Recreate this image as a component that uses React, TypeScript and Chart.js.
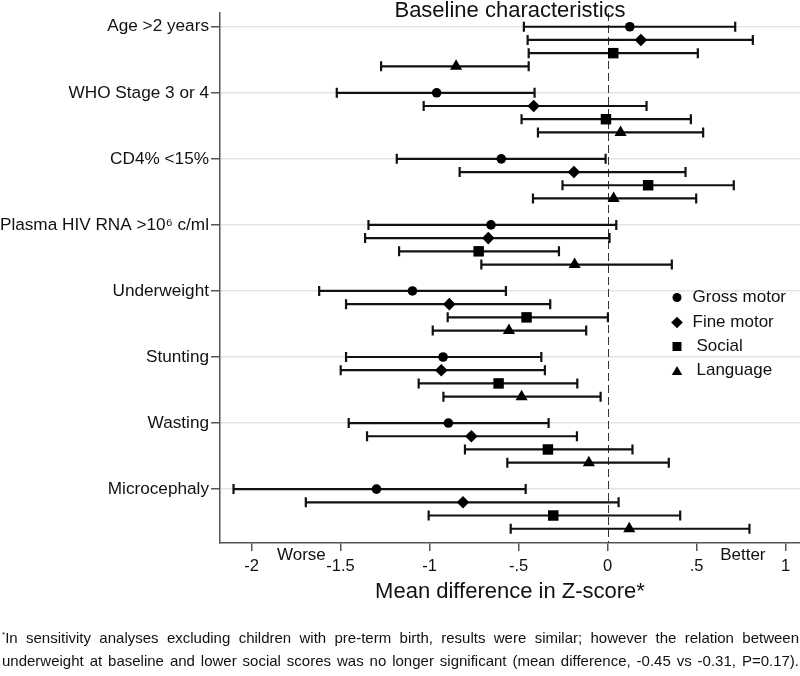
import React, { useEffect, useRef } from 'react';
import { Chart, registerables } from 'chart.js';

Chart.register(...registerables);

const FONT = "'Liberation Sans', Arial, Helvetica, sans-serif";

const CATEGORIES = [
  'Age >2 years',
  'WHO Stage 3 or 4',
  'CD4% <15%',
  'Plasma HIV RNA >10\u2076 c/ml',
  'Underweight',
  'Stunting',
  'Wasting',
  'Microcephaly',
];
const SERIES = ['Gross motor', 'Fine motor', 'Social', 'Language'];

const GROSS_MEAN = [0.125, -0.96, -0.597, -0.655, -1.096, -0.924, -0.894, -1.298];
const GROSS_LO = [-0.47, -1.521, -1.184, -1.343, -1.62, -1.469, -1.454, -2.101];
const GROSS_HI = [0.717, -0.41, -0.011, 0.049, -0.571, -0.372, -0.331, -0.46];

const FINE_MEAN = [0.187, -0.415, -0.189, -0.67, -0.889, -0.934, -0.765, -0.812];
const FINE_LO = [-0.449, -1.033, -0.831, -1.362, -1.469, -1.499, -1.351, -1.695];
const FINE_HI = [0.816, 0.219, 0.438, 0.011, -0.322, -0.352, -0.172, 0.062];

const SOCIAL_MEAN = [0.032, -0.009, 0.228, -0.724, -0.455, -0.612, -0.335, -0.305];
const SOCIAL_LO = [-0.443, -0.483, -0.253, -1.171, -0.898, -1.061, -0.801, -1.005];
const SOCIAL_HI = [0.507, 0.468, 0.709, -0.273, 0.002, -0.17, 0.14, 0.408];

const LANG_MEAN = [-0.851, 0.073, 0.034, -0.185, -0.554, -0.483, -0.105, 0.122];
const LANG_LO = [-1.272, -0.391, -0.419, -0.709, -0.982, -0.922, -0.563, -0.544];
const LANG_HI = [-0.443, 0.537, 0.498, 0.361, -0.12, -0.039, 0.344, 0.797];

const X_TICKS = [-2, -1.5, -1, -0.5, 0, 0.5, 1];
const X_TICK_LABELS = ['-2', '-1.5', '-1', '-.5', '0', '.5', '1'];

const SERIES_MEANS = [GROSS_MEAN, FINE_MEAN, SOCIAL_MEAN, LANG_MEAN];
const SERIES_LO = [GROSS_LO, FINE_LO, SOCIAL_LO, LANG_LO];
const SERIES_HI = [GROSS_HI, FINE_HI, SOCIAL_HI, LANG_HI];
const POINT_STYLES = ['circle', 'rectRot', 'rect', 'triangle'];
const POINT_RADII = [4.8, 6.3, 7.4, 7];

const ROWS_PER_CAT = 5;
const rowOf = (cat: number, s: number) => cat * ROWS_PER_CAT + s;

function drawMarker(ctx: CanvasRenderingContext2D, style: string, x: number, y: number, size: number) {
  ctx.beginPath();
  if (style === 'circle') {
    ctx.arc(x, y, size / 2, 0, Math.PI * 2);
  } else if (style === 'rectRot') {
    const h = size / 2;
    ctx.moveTo(x, y - h);
    ctx.lineTo(x + h, y);
    ctx.lineTo(x, y + h);
    ctx.lineTo(x - h, y);
    ctx.closePath();
  } else if (style === 'rect') {
    ctx.rect(x - size / 2, y - size / 2, size, size);
  } else {
    const h = size * 0.866;
    ctx.moveTo(x, y - h / 2);
    ctx.lineTo(x + size / 2, y + h / 2);
    ctx.lineTo(x - size / 2, y + h / 2);
    ctx.closePath();
  }
  ctx.fill();
}

const forestPlugin = {
  id: 'forest',
  beforeDatasetsDraw(chart: any) {
    const { ctx, chartArea, scales } = chart;
    const xs = scales.x;
    const ys = scales.y;
    ctx.save();
    const x0 = Math.round(xs.getPixelForValue(0)) + 0.5;
    ctx.strokeStyle = '#333';
    ctx.lineWidth = 1;
    ctx.setLineDash([8, 4]);
    ctx.beginPath();
    ctx.moveTo(x0, chartArea.top);
    ctx.lineTo(x0, chartArea.bottom);
    ctx.stroke();
    ctx.setLineDash([]);
    ctx.strokeStyle = '#111';
    ctx.lineWidth = 2.2;
    for (let s = 0; s < SERIES.length; s++) {
      for (let i = 0; i < CATEGORIES.length; i++) {
        const py = ys.getPixelForValue(rowOf(i, s));
        const xl = xs.getPixelForValue(SERIES_LO[s][i]);
        const xh = xs.getPixelForValue(SERIES_HI[s][i]);
        ctx.beginPath();
        ctx.moveTo(xl, py);
        ctx.lineTo(xh, py);
        ctx.moveTo(xl, py - 5);
        ctx.lineTo(xl, py + 5);
        ctx.moveTo(xh, py - 5);
        ctx.lineTo(xh, py + 5);
        ctx.stroke();
      }
    }
    ctx.restore();
  },
  afterDraw(chart: any) {
    const { ctx, chartArea, scales } = chart;
    const xs = scales.x;
    ctx.save();
    ctx.fillStyle = '#111';
    ctx.font = `22px ${FONT}`;
    ctx.textAlign = 'center';
    ctx.textBaseline = 'alphabetic';
    ctx.fillText('Baseline characteristics', (chartArea.left + chartArea.right) / 2, 17);
    ctx.font = `17px ${FONT}`;
    ctx.textBaseline = 'middle';
    ctx.fillText('Worse', xs.getPixelForValue(-1.72), chartArea.bottom + 12);
    ctx.fillText('Better', xs.getPixelForValue(0.76), chartArea.bottom + 12);
    const legendX = 677;
    const legendY = [297.5, 322.5, 346.5, 370.5];
    const textX = [692.5, 692.5, 696.5, 696.5];
    const sizes = [9, 11.7, 9, 10.5];
    ctx.textAlign = 'left';
    ctx.font = `17px ${FONT}`;
    for (let s = 0; s < SERIES.length; s++) {
      ctx.fillStyle = '#000';
      drawMarker(ctx, POINT_STYLES[s], legendX, legendY[s], sizes[s]);
      ctx.fillStyle = '#111';
      ctx.fillText(SERIES[s], textX[s], legendY[s]);
    }
    ctx.restore();
  },
};

export default function App() {
  const canvasRef = useRef<HTMLCanvasElement | null>(null);

  useEffect(() => {
    if (!canvasRef.current) return;
    Chart.defaults.font.family = FONT;
    const datasets = SERIES.map((name, s) => ({
      label: name,
      data: SERIES_MEANS[s].map((m, i) => ({ x: m, y: rowOf(i, s) })),
      pointStyle: POINT_STYLES[s],
      pointRadius: POINT_RADII[s],
      pointHoverRadius: POINT_RADII[s],
      backgroundColor: '#000',
      borderColor: '#000',
      borderWidth: 0,
      showLine: false,
      clip: false,
    }));

    const chart = new Chart(canvasRef.current, {
      type: 'scatter',
      data: { datasets } as any,
      options: {
        responsive: false,
        devicePixelRatio: 1,
        animation: false,
        layout: { autoPadding: false, padding: { top: 13, bottom: 66, left: 0, right: 0 } },
        plugins: {
          legend: { display: false },
          tooltip: { enabled: false },
          title: { display: false },
        },
        scales: {
          x: {
            type: 'linear',
            min: -2.177,
            max: 1.081,
            afterBuildTicks: (sc: any) => {
              sc.ticks = X_TICKS.map((v) => ({ value: v }));
            },
            afterFit: (sc: any) => {
              sc.height = 67;
              sc.paddingLeft = 0;
              sc.paddingRight = 0;
            },
            ticks: {
              callback: (v: any) => X_TICK_LABELS[X_TICKS.indexOf(Number(v))],
              font: { size: 16.5, family: FONT },
              color: '#111',
              padding: 6,
              maxRotation: 0,
              autoSkip: false,
            },
            grid: { drawOnChartArea: false, tickColor: '#555', tickLength: 8, lineWidth: 1.5 },
            border: { color: '#555', width: 1.5 },
            title: {
              display: true,
              text: 'Mean difference in Z-score*',
              font: { size: 22, family: FONT },
              color: '#111',
              padding: { top: 0, bottom: 5 },
            },
          },
          y: {
            type: 'linear',
            reverse: true,
            min: -1.04,
            max: 39.08,
            afterBuildTicks: (sc: any) => {
              sc.ticks = CATEGORIES.map((_, i) => ({ value: rowOf(i, 0) }));
            },
            afterFit: (sc: any) => {
              sc.width = 220;
              sc.paddingTop = 0;
              sc.paddingBottom = 0;
            },
            ticks: {
              callback: (v: any) => CATEGORIES[Math.round(Number(v) / ROWS_PER_CAT)],
              font: { size: 17.2, family: FONT },
              color: '#111',
              padding: 2,
              autoSkip: false,
            },
            grid: { color: '#e4e4e4', lineWidth: 1.5, tickColor: '#555', tickLength: 9 },
            border: { color: '#555', width: 1.5 },
          },
        },
      } as any,
      plugins: [forestPlugin],
    });
    return () => chart.destroy();
  }, []);

  const lineStyle: React.CSSProperties = {
    textAlign: 'justify',
    textAlignLast: 'justify' as any,
    whiteSpace: 'normal',
    height: 23,
    overflow: 'hidden',
  };

  return (
    <div style={{ position: 'fixed', left: 0, top: 0, width: 800, height: 676, background: '#fff' }}>
      <canvas ref={canvasRef} width={800} height={676} style={{ display: 'block' }} />
      <div
        style={{
          position: 'absolute',
          left: 2,
          top: 625.5,
          width: 797,
          fontFamily: FONT,
          fontSize: 15,
          lineHeight: '23px',
          color: '#111',
        }}
      >
        <div style={lineStyle}>
          <span style={{ fontSize: 8, position: 'relative', top: -6 }}>*</span>In sensitivity analyses excluding children with pre-term birth, results were similar; however the relation between
        </div>
        <div style={lineStyle}>
          underweight at baseline and lower social scores was no longer significant (mean difference, -0.45 vs -0.31, P=0.17).
        </div>
      </div>
    </div>
  );
}
